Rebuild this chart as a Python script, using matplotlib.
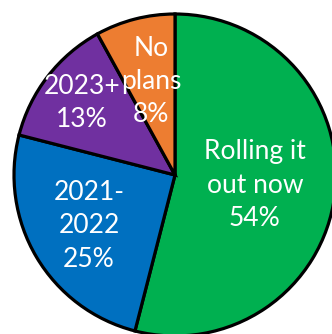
import matplotlib
matplotlib.use("Agg")
import matplotlib.pyplot as plt
import numpy as np

labels = ["Rolling it\nout now", "2021-\n2022", "2023+", "No\nplans"]
values = [54, 25, 13, 8]
colors = ["#00B050", "#0070C0", "#7030A0", "#ED7D31"]
label_dist = [0.50, 0.62, 0.73, 0.60]

W, H = 332, 334
cx, cy, R = 175, 175, 161

fig = plt.figure(figsize=(W / 100, H / 100), dpi=100)
ax = fig.add_axes([0, 0, 1, 1])
wedges, _ = ax.pie(values, colors=colors, startangle=90, counterclock=False,
                   radius=1, center=(0, 0),
                   wedgeprops=dict(edgecolor="black", linewidth=2.3))
for w, lab, v, d in zip(wedges, labels, values, label_dist):
    ang = np.deg2rad((w.theta1 + w.theta2) / 2)
    ax.text(d * np.cos(ang), d * np.sin(ang), f"{lab}\n{v}%",
            ha="center", va="center", color="white", fontsize=19,
            family="Lato", linespacing=1.42)
ax.set_xlim(-cx / R, (W - cx) / R)
ax.set_ylim(-(H - cy) / R, cy / R)
ax.set_aspect("auto")
ax.axis("off")
fig.savefig("out.png", dpi=100)
